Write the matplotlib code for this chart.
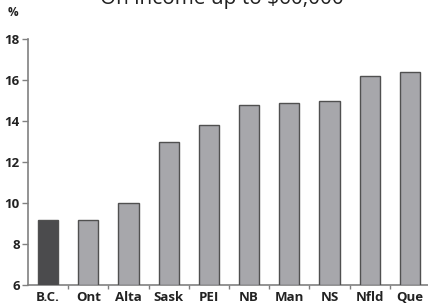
import matplotlib.pyplot as plt

# data
provinces = ["B.C.", "Ont", "Alta", "Sask", "PEI", "NB", "Man", "NS", "Nfld", "Que"]
rates = [9.15, 9.15, 10.0, 13.0, 13.8, 14.8, 14.9, 15.0, 16.2, 16.4]
y_ticks = [6, 8, 10, 12, 14, 16, 18]

plt.rcParams["font.family"] = ["Open Sans", "DejaVu Sans"]

fig = plt.figure(figsize=(4.28, 3.08), dpi=100)
ax = fig.add_axes([28 / 428, 1 - 285 / 308, 402 / 428, 246 / 308])

colors = ["#4b4b4d"] + ["#a7a7ab"] * (len(provinces) - 1)
x = range(len(provinces))
ax.bar(x, [r - 6 for r in rates], bottom=6, width=0.5, color=colors,
       edgecolor="#505050", linewidth=1.0, zorder=3)

ax.set_xlim(-0.5, len(provinces) - 0.5)
ax.set_ylim(6, 18)
ax.set_yticks(y_ticks)
ax.set_yticklabels([str(t) for t in y_ticks], fontsize=9.5, fontweight="bold", color="#222222")

# labels centred under bars, ticks at the boundaries
ax.set_xticks(list(x))
ax.set_xticklabels(provinces, fontsize=9.5, fontweight="bold", color="#222222")
ax.set_xticks([i + 0.5 for i in range(len(provinces) - 1)], minor=True)
ax.tick_params(axis="x", which="major", length=0, pad=4)
ax.tick_params(axis="x", which="minor", length=3, width=1, color="#808080", direction="out")
ax.tick_params(axis="y", length=4, width=1, color="#808080", pad=2)

for side in ["top", "right"]:
    ax.spines[side].set_visible(False)
for side in ["left", "bottom"]:
    ax.spines[side].set_color("#808080")
    ax.spines[side].set_linewidth(1.2)

fig.text(13 / 428, 1 - 13 / 308, "%", fontsize=8.5, fontweight="bold",
         color="#222222", ha="center", va="center")
fig.text(222 / 428, 1 - 4 / 308, "On income up to $60,000", fontsize=15,
         color="#222222", ha="center", va="baseline")

fig.savefig("out.png", dpi=100)
